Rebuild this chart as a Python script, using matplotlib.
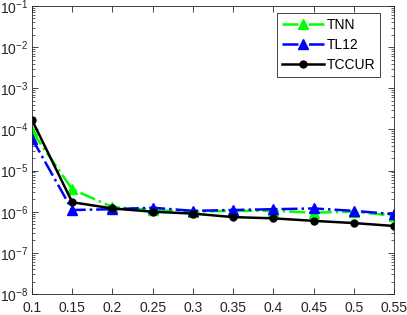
import matplotlib
matplotlib.use("Agg")
from matplotlib import pyplot as plt
from matplotlib.ticker import LogLocator, NullFormatter

plt.rcParams['font.family'] = ['Liberation Sans', 'DejaVu Sans']

x = [0.1, 0.15, 0.2, 0.25, 0.3, 0.35, 0.4, 0.45, 0.5, 0.55]
tnn = [9e-5, 3.5e-6, 1.3e-6, 1.1e-6, 1.0e-6, 1.05e-6, 1.05e-6, 0.95e-6, 1.0e-6, 0.8e-6]
tl12 = [6e-5, 1.1e-6, 1.15e-6, 1.25e-6, 1.05e-6, 1.1e-6, 1.15e-6, 1.2e-6, 1.05e-6, 0.87e-6]
tccur = [1.7e-4, 1.7e-6, 1.2e-6, 1.0e-6, 0.9e-6, 0.74e-6, 0.69e-6, 0.6e-6, 0.53e-6, 0.45e-6]
xticks = [0.1, 0.15, 0.2, 0.25, 0.3, 0.35, 0.4, 0.45, 0.5, 0.55]
xlabels = ['0.1', '0.15', '0.2', '0.25', '0.3', '0.35', '0.4', '0.45', '0.5', '0.55']

fig = plt.figure(figsize=(4.07, 3.15), dpi=100)
ax = fig.add_axes([32/407, 21/315, 362/407, 288/315])

ax.plot(x, tnn, color=(0, 1, 0), linestyle='-.', linewidth=1.8, marker='^',
        markersize=7, markerfacecolor=(0, 1, 0), label='TNN')
ax.plot(x, tl12, color='blue', linestyle='-.', linewidth=1.8, marker='^',
        markersize=7, markerfacecolor='blue', label='TL12')
ax.plot(x, tccur, color='black', linestyle='-', linewidth=1.8, marker='o',
        markersize=5, label='TCCUR')

ax.set_yscale('log')
ax.set_xlim(0.1, 0.55)
ax.set_ylim(1e-8, 1e-1)
ax.set_xticks(xticks)
ax.set_xticklabels(xlabels)
ax.yaxis.set_major_locator(LogLocator(base=10, numticks=10))
ax.yaxis.set_minor_locator(LogLocator(base=10, subs=range(2, 10), numticks=100))
ax.yaxis.set_minor_formatter(NullFormatter())

ax.tick_params(which='both', direction='in', top=True, right=True,
               color=(0.15, 0.15, 0.15), labelsize=10, labelcolor=(0.15, 0.15, 0.15))
ax.tick_params(which='major', length=4, width=0.6)
ax.tick_params(which='minor', length=2, width=0.5)
ax.tick_params(axis='x', pad=5)
ax.tick_params(axis='y', pad=3)
for s in ax.spines.values():
    s.set_color((0.15, 0.15, 0.15))
    s.set_linewidth(0.6)

leg = ax.legend(loc='upper right', bbox_to_anchor=(0.961, 0.976), fontsize=10,
                fancybox=False, framealpha=1, edgecolor=(0.15, 0.15, 0.15),
                handlelength=3.0, borderpad=0.35, labelspacing=0.45,
                handletextpad=0.2, borderaxespad=0)
leg.get_frame().set_linewidth(0.6)

plt.savefig("out.png", dpi=100)
